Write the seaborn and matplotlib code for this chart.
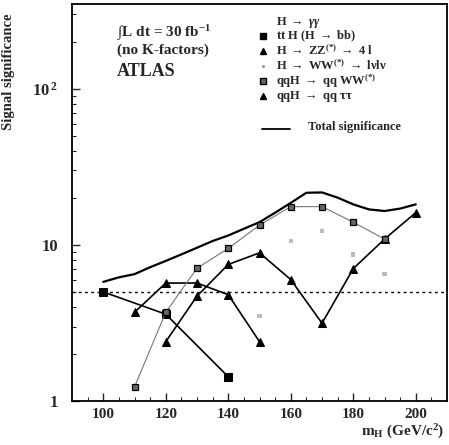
import numpy as np
import pandas as pd
import seaborn as sns
import matplotlib
matplotlib.use("Agg")
import matplotlib.pyplot as plt
from matplotlib.lines import Line2D
from matplotlib.ticker import FixedLocator, NullFormatter, LogLocator

# ---------------- data ----------------
mass_tth = [100, 120, 140]
sig_tth = [5.0, 3.6, 1.43]

mass_zz = [120, 130, 140, 150, 160, 170, 180, 190, 200]
sig_zz = [2.4, 4.7, 7.5, 8.9, 6.0, 3.15, 7.05, 10.9, 16.1]

mass_ww = [150, 160, 170, 180, 190]
sig_ww = [3.5, 10.6, 12.3, 8.7, 6.5]

mass_qqww = [110, 120, 130, 140, 150, 160, 170, 180, 190]
sig_qqww = [1.23, 3.7, 7.1, 9.5, 13.4, 17.6, 17.6, 14.0, 10.9]

mass_tautau = [110, 120, 130, 140, 150]
sig_tautau = [3.7, 5.7, 5.7, 4.8, 2.4]

mass_total = [100, 105, 110, 115, 120, 125, 130, 135, 140, 145, 150,
              155, 160, 165, 170, 175, 180, 185, 190, 195, 200]
sig_total = [5.8, 6.2, 6.5, 7.2, 7.9, 8.7, 9.6, 10.6, 11.5, 12.7, 14.0,
             16.1, 18.6, 21.6, 21.7, 20.1, 18.2, 16.9, 16.5, 17.1, 18.2]

discovery_level = 5.0
x_ticks = [100, 120, 140, 160, 180, 200]
y_ticks = [1, 10, 100]
y_tick_labels = ["1", "10", "10$^{\\,\\mathbf{2}}$"]

legend_labels = [
    "H $\\rightarrow$ $\\gamma\\gamma$",
    "tt H (H $\\rightarrow$ bb)",
    "H $\\rightarrow$ ZZ$^{\\mathbf{(*)}}$ $\\rightarrow$ 4 l",
    "H $\\rightarrow$ WW$^{\\mathbf{(*)}}$ $\\rightarrow$ l\u03bdl\u03bd",
    "qqH $\\rightarrow$ qq WW$^{\\mathbf{(*)}}$",
    "qqH $\\rightarrow$ qq \u03c4\u03c4",
    "Total significance",
]

# ---------------- style ----------------
sns.set_style("white")
plt.rcParams["font.family"] = ["Liberation Serif", "DejaVu Serif"]
plt.rcParams["font.weight"] = "bold"
plt.rcParams["mathtext.fontset"] = "custom"
plt.rcParams["mathtext.rm"] = "Liberation Serif:bold"
plt.rcParams["mathtext.it"] = "Liberation Serif:italic:bold"
plt.rcParams["mathtext.bf"] = "Liberation Serif:bold"
plt.rcParams["mathtext.sf"] = "Liberation Serif:bold"
plt.rcParams["axes.linewidth"] = 1.3

W, H = 449, 445
fig = plt.figure(figsize=(W / 100, H / 100), dpi=100)
ax = fig.add_axes([72 / W, 1 - 401 / H, 375 / W, 397 / H])


def fx(px):
    return px / W


def fy(py):
    return 1 - py / H


ax.set_yscale("log")

# discovery line
ax.axhline(discovery_level, color="black", lw=1.0, ls=(0, (2, 2.5)), zorder=1)

# total
sns.lineplot(x=mass_total, y=sig_total, ax=ax, color="black", lw=1.6,
             legend=False, zorder=3)
# ttH
sns.lineplot(x=mass_tth, y=sig_tth, ax=ax, color="black", lw=1.2, marker="s",
             markersize=5.5, markeredgecolor="black", legend=False, zorder=4)
# ZZ
sns.lineplot(x=mass_zz, y=sig_zz, ax=ax, color="black", lw=1.2, marker="^",
             markersize=5.5, markeredgecolor="black", legend=False, zorder=4)
# tautau
sns.lineplot(x=mass_tautau, y=sig_tautau, ax=ax, color="black", lw=1.2, marker="^",
             markersize=5.5, markeredgecolor="black", legend=False, zorder=4)
# qqWW
sns.lineplot(x=mass_qqww, y=sig_qqww, ax=ax, color="#777777", lw=0.8, marker="s",
             markersize=5.0, markerfacecolor="#666666", markeredgecolor="black",
             markeredgewidth=0.9, legend=False, zorder=4)
# WW -> lvlv (faint)
sns.scatterplot(x=mass_ww, y=sig_ww, ax=ax, color="#bbbbbb", s=10, marker="s",
                edgecolor="none", legend=False, zorder=2)

ax.set_xlim(90, 210)
ax.set_ylim(1, 350)

ax.xaxis.set_major_locator(FixedLocator(x_ticks))
ax.xaxis.set_minor_locator(FixedLocator(list(range(95, 210, 5))))
ax.set_xticklabels([str(v) for v in x_ticks], fontsize=11, fontweight="bold")
ax.yaxis.set_major_locator(FixedLocator(y_ticks))
ax.yaxis.set_minor_locator(LogLocator(base=10, subs=np.arange(2, 10), numticks=20))
ax.yaxis.set_minor_formatter(NullFormatter())
ax.set_yticklabels(y_tick_labels, fontsize=12, fontweight="bold")

ax.tick_params(axis="both", which="major", direction="in", length=6, width=1.0,
               top=False, right=False, bottom=True, left=True)
ax.tick_params(axis="both", which="minor", direction="in", length=3, width=0.8,
               top=False, right=False, bottom=True, left=True)
ax.tick_params(axis="y", which="major", pad=10)
ax.tick_params(axis="x", which="major", pad=5)

for s in ax.spines.values():
    s.set_color("black")
    s.set_linewidth(1.3)

ax.set_ylabel("Signal significance", fontsize=10.5, fontweight="bold")
ax.yaxis.set_label_coords((15 - 72) / 375, (401 - 72) / 397)
ax.set_xlabel("m$_{\\mathbf{H}}$ (GeV/c$^{\\mathbf{2}}$)", fontsize=11, fontweight="bold")
ax.xaxis.set_label_coords((403 - 72) / 375, (401 - 423) / 397)

# left annotation block
fig.text(fx(117), fy(33), "\u222bL dt = 30 fb$^{\\mathbf{-1}}$", fontsize=11,
         fontweight="bold", va="center", ha="left")
fig.text(fx(117), fy(50), "(no K-factors)", fontsize=11, fontweight="bold",
         va="center", ha="left")
fig.text(fx(117), fy(72), "ATLAS", fontsize=13, fontweight="bold",
         va="center", ha="left")

# legend block
rows_y = [22, 36, 51, 66, 81, 96]
text_x = 276
mk_x = 263
legend_markers = [None, ("s", "black", "black", 4.5), ("^", "black", "black", 4.5),
                  (".", "#999999", "#999999", 2.5), ("s", "#666666", "black", 4.5),
                  ("^", "black", "black", 4.5)]
for yy, lab, mk in zip(rows_y, legend_labels[:6], legend_markers):
    fig.text(fx(text_x), fy(yy), lab, fontsize=9, fontweight="bold",
             va="center", ha="left")
    if mk is not None:
        fig.add_artist(Line2D([fx(mk_x)], [fy(yy)], transform=fig.transFigure,
                              marker=mk[0], markersize=mk[3], markerfacecolor=mk[1],
                              markeredgecolor=mk[2], linestyle="none"))
fig.add_artist(Line2D([fx(262), fx(290)], [fy(129), fy(129)], transform=fig.transFigure,
                      color="black", lw=1.3))
fig.text(fx(308), fy(127), legend_labels[6], fontsize=9, fontweight="bold",
         va="center", ha="left")

fig.savefig("out.png", dpi=100, facecolor="white")
